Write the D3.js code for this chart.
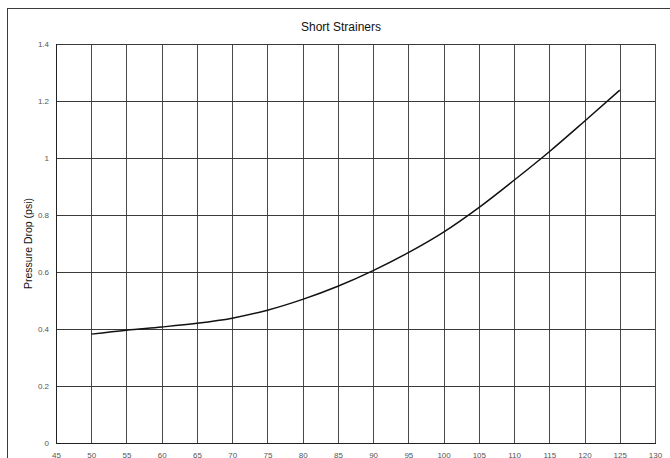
<!DOCTYPE html>
<html>
<head>
<meta charset="utf-8">
<script src="https://cdn.jsdelivr.net/npm/d3@7"></script>
<style>
  html, body { margin: 0; padding: 0; background: #fff; }
  svg { display: block; }
</style>
</head>
<body>
<svg id="chart" width="670" height="458"></svg>
<script>
// Flow (x) and pressure drop in psi (y) for short strainers
const flow = [50, 55, 60, 65, 70, 75, 80, 85, 90, 95, 100, 105, 110, 115, 120, 125];
const pressureDrop = [0.382, 0.396, 0.407, 0.420, 0.438, 0.466, 0.504, 0.550, 0.605, 0.668, 0.740, 0.826, 0.922, 1.022, 1.129, 1.238];
const xTicks = d3.range(45, 131, 5);
const yTicks = [0, 0.2, 0.4, 0.6, 0.8, 1, 1.2, 1.4];

const svg = d3.select("#chart");
const font = "'Liberation Sans', Arial, sans-serif";

const plot = { left: 56, right: 655, top: 44, bottom: 443 };

const x = d3.scaleLinear().domain([45, 130]).range([plot.left, plot.right]);
const y = d3.scaleLinear().domain([0, 1.4]).range([plot.bottom, plot.top]);

// chart frame
svg.append("rect")
  .attr("x", 7.5).attr("y", 8.5)
  .attr("width", 700).attr("height", 500)
  .attr("fill", "none").attr("stroke", "#3a3a3a").attr("stroke-width", 1);

// title
svg.append("text")
  .attr("x", 341).attr("y", 31)
  .attr("text-anchor", "middle")
  .attr("font-family", font).attr("font-size", 12)
  .attr("fill", "#111")
  .text("Short Strainers");

// gridlines
const grid = svg.append("g");
grid.selectAll("line.v").data(xTicks).join("line")
  .attr("x1", d => Math.round(x(d)) + 0.5).attr("x2", d => Math.round(x(d)) + 0.5)
  .attr("y1", plot.top).attr("y2", plot.bottom)
  .attr("stroke", "#4a4a4a").attr("stroke-width", 1);
grid.selectAll("line.h").data(yTicks).join("line")
  .attr("x1", plot.left).attr("x2", plot.right)
  .attr("y1", d => Math.round(y(d)) + 0.5).attr("y2", d => Math.round(y(d)) + 0.5)
  .attr("stroke", "#3a3a3a").attr("stroke-width", 1);

// axes
const yAxis = svg.append("g")
  .attr("transform", `translate(${plot.left},0)`)
  .call(d3.axisLeft(y).tickValues(yTicks).tickSize(0).tickPadding(7).tickFormat(d => d3.format("")(+d.toFixed(1))));
yAxis.select(".domain").remove();
yAxis.selectAll("text")
  .attr("font-family", font).attr("font-size", 8).attr("fill", "#555");

const xAxis = svg.append("g")
  .attr("transform", `translate(0,${plot.bottom})`)
  .call(d3.axisBottom(x).tickValues(xTicks).tickSize(0).tickPadding(9));
xAxis.select(".domain").remove();
xAxis.selectAll("text")
  .attr("font-family", font).attr("font-size", 8).attr("fill", "#555");

// axis outline on left and bottom
svg.append("line")
  .attr("x1", plot.left + 0.5).attr("x2", plot.left + 0.5)
  .attr("y1", plot.top).attr("y2", plot.bottom + 0.5)
  .attr("stroke", "#222");
svg.append("line")
  .attr("x1", plot.left).attr("x2", plot.right + 1)
  .attr("y1", plot.bottom + 0.5).attr("y2", plot.bottom + 0.5)
  .attr("stroke", "#222");

// y-axis title
svg.append("text")
  .attr("transform", `translate(32,${(plot.top + plot.bottom) / 2}) rotate(-90)`)
  .attr("text-anchor", "middle")
  .attr("font-family", font).attr("font-size", 10.5)
  .attr("fill", "#111")
  .text("Pressure Drop (psi)");

// curve
const pts = flow.map((f, i) => [f, pressureDrop[i]]);
svg.append("path")
  .datum(pts)
  .attr("fill", "none")
  .attr("stroke", "#111")
  .attr("stroke-width", 1.5)
  .attr("d", d3.line().x(d => x(d[0])).y(d => y(d[1])).curve(d3.curveMonotoneX));
</script>
</body>
</html>
